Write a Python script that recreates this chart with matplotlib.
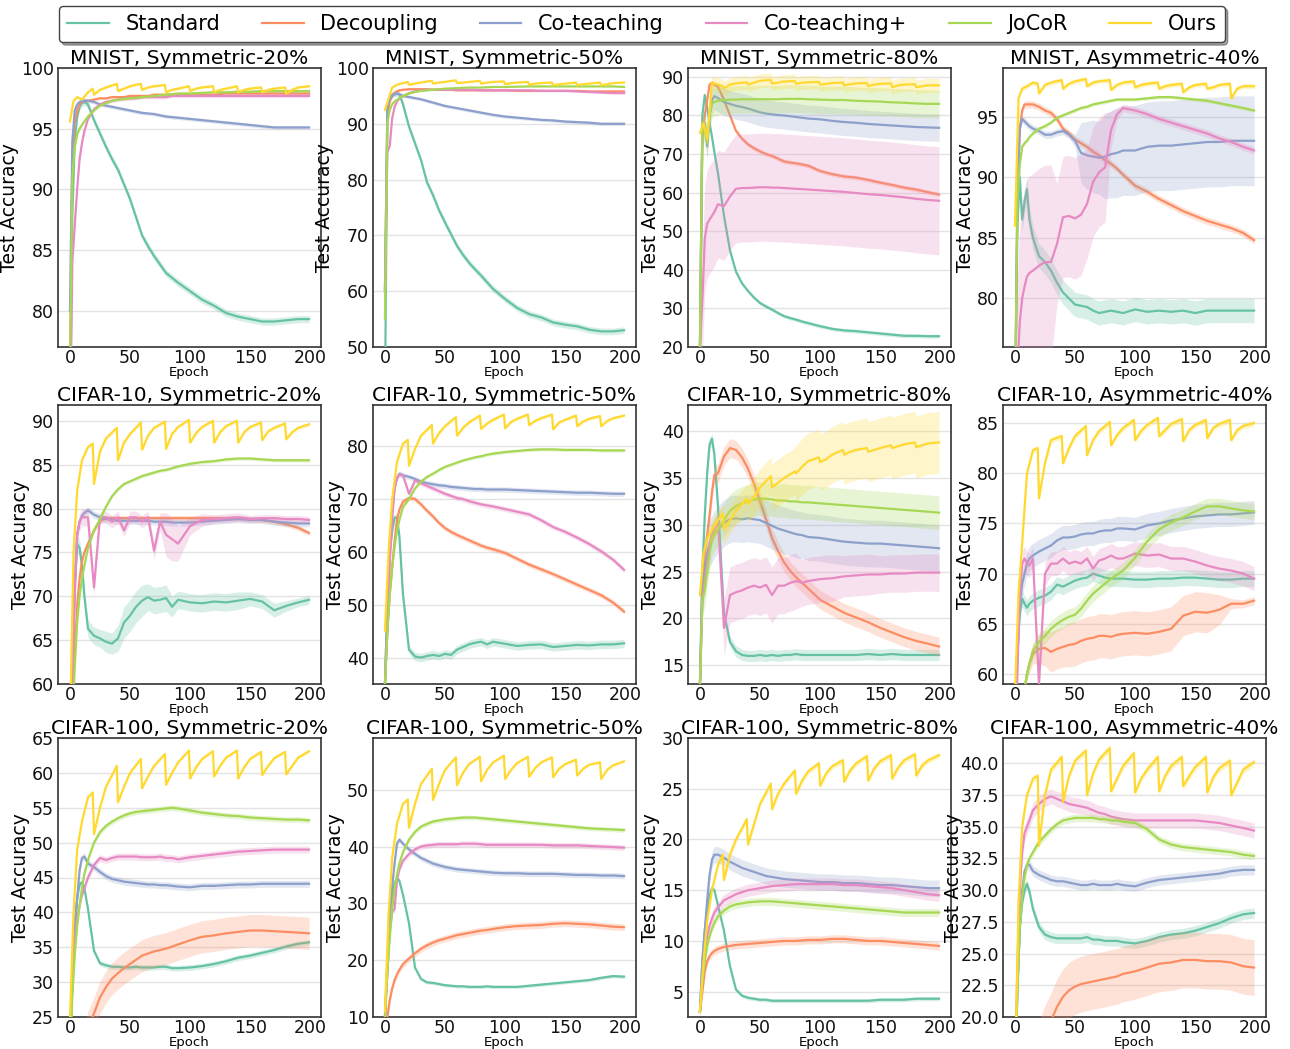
import numpy as np
import matplotlib
matplotlib.use("Agg")
import matplotlib.pyplot as plt
from matplotlib.ticker import MultipleLocator

plt.rcParams['font.family'] = ['DejaVu Sans']

METHODS = ["Standard", "Decoupling", "Co-teaching", "Co-teaching+", "JoCoR", "Ours"]
COLORS = ['#66c2a5', '#fc8d62', '#8da0cb', '#e78ac3', '#a6d854', '#ffd92f']

# epochs for baselines and for "Ours" (cyclic schedule)
EPOCHS = [0, 2, 4, 6, 8, 10, 12, 15, 20, 25, 30, 35, 40, 45, 50, 55, 60, 65, 70, 75, 80, 85, 90,
          100, 110, 120, 130, 140, 150, 160, 170, 180, 190, 199]
EPOCHS_OURS = [0, 3, 6, 10, 15, 19, 20, 25, 30, 39, 40, 45, 50, 59, 60, 65, 70, 79, 80, 85, 90, 99,
               100, 105, 110, 119, 120, 125, 130, 139, 140, 145, 150, 159, 160, 165, 170, 179,
               180, 185, 190, 199]

# ---------------- MNIST, Symmetric-20% ----------------
m20_standard = [70, 88, 94, 96, 96.8, 97.1, 97.2, 97.0, 95.7, 94.6, 93.5, 92.5, 91.6, 90.4, 89.2, 87.7, 86.2, 85.3, 84.5, 83.8, 83.1, 82.7, 82.3, 81.6, 80.9, 80.4, 79.8, 79.5, 79.3, 79.1, 79.1, 79.2, 79.3, 79.3]
m20_decoup = [75, 93, 95.5, 96.5, 97.0, 97.2, 97.3, 97.3, 97.4, 97.5, 97.5, 97.6, 97.6, 97.6, 97.7, 97.7, 97.7, 97.7, 97.8, 97.8, 97.8, 97.8, 97.8, 97.8, 97.8, 97.8, 97.9, 97.9, 97.9, 97.9, 97.9, 97.9, 97.9, 97.9]
m20_coteach = [80, 94, 96.5, 97.0, 97.2, 97.3, 97.3, 97.3, 97.2, 97.0, 96.9, 96.8, 96.7, 96.6, 96.5, 96.4, 96.3, 96.25, 96.2, 96.1, 96.0, 95.95, 95.9, 95.8, 95.7, 95.6, 95.5, 95.4, 95.3, 95.2, 95.1, 95.1, 95.1, 95.1]
m20_coplus = [70, 84, 87, 90, 92.5, 93.8, 94.8, 95.8, 96.6, 97.0, 97.2, 97.3, 97.4, 97.45, 97.5, 97.5, 97.6, 97.6, 97.6, 97.6, 97.6, 97.7, 97.7, 97.7, 97.7, 97.7, 97.7, 97.7, 97.7, 97.7, 97.7, 97.7, 97.7, 97.7]
m20_jocor = [75, 91, 93.5, 94.5, 95.0, 95.3, 95.6, 96.0, 96.5, 96.9, 97.1, 97.3, 97.4, 97.45, 97.5, 97.55, 97.6, 97.65, 97.7, 97.75, 97.8, 97.85, 97.9, 97.9, 97.95, 98.0, 98.0, 98.05, 98.05, 98.1, 98.1, 98.1, 98.1, 98.1]
m20_ours = [95.6, 97.3, 97.6, 97.4, 98.0, 98.3, 97.8, 98.2, 98.4, 98.7, 98.1, 98.3, 98.5, 98.7, 98.2, 98.4, 98.5, 98.6, 98.0, 98.2, 98.3, 98.5, 98.1, 98.3, 98.4, 98.5, 98.0, 98.2, 98.3, 98.5, 98.0, 98.2, 98.3, 98.4, 98.0, 98.2, 98.3, 98.4, 97.9, 98.2, 98.4, 98.5]
m20_sd = [0.3, 0.1, 0.15, 0.15, 0.1, 0.1]

# ---------------- MNIST, Symmetric-50% ----------------
m50_standard = [40, 92, 94.5, 95.2, 95.5, 95.5, 95.3, 93.5, 89.5, 86.5, 83.5, 79.5, 77.2, 74.5, 72.3, 70.2, 68.1, 66.5, 65.1, 63.9, 62.8, 61.6, 60.4, 58.6, 57.0, 55.9, 55.3, 54.4, 54.0, 53.7, 53.1, 52.8, 52.8, 53.0]
m50_decoup = [60, 92, 94, 95, 95.5, 95.8, 96.0, 96.1, 96.2, 96.2, 96.2, 96.2, 96.1, 96.1, 96.1, 96.1, 96.0, 96.0, 96.0, 96.0, 96.0, 96.0, 96.0, 96.0, 95.9, 95.9, 95.9, 95.9, 95.9, 95.9, 95.8, 95.8, 95.8, 95.8]
m50_coteach = [60, 93, 94.5, 95.0, 95.3, 95.4, 95.3, 95.0, 94.8, 94.6, 94.4, 94.1, 93.8, 93.5, 93.2, 93.0, 92.8, 92.6, 92.4, 92.2, 92.0, 91.8, 91.6, 91.3, 91.1, 90.9, 90.7, 90.6, 90.4, 90.3, 90.2, 90.0, 90.0, 90.0]
m50_coplus = [60, 85, 86, 91, 93, 94, 94.5, 95, 95.5, 95.8, 96, 96.1, 96.1, 96.1, 96.1, 96.1, 96.1, 96.1, 96.1, 96.1, 96.0, 96.0, 96.0, 96.0, 96.0, 96.0, 95.9, 95.9, 95.9, 95.8, 95.7, 95.6, 95.5, 95.5]
m50_jocor = [55, 90, 92.5, 93.5, 94, 94.3, 94.6, 95.0, 95.4, 95.7, 95.9, 96.0, 96.1, 96.2, 96.3, 96.35, 96.4, 96.45, 96.5, 96.5, 96.5, 96.55, 96.6, 96.6, 96.65, 96.7, 96.7, 96.7, 96.7, 96.7, 96.7, 96.7, 96.7, 96.6]
m50_ours = [92.5, 94.5, 96.5, 97.0, 97.3, 97.5, 97.0, 97.2, 97.4, 97.7, 97.2, 97.4, 97.5, 97.8, 97.3, 97.4, 97.5, 97.7, 97.2, 97.4, 97.5, 97.6, 97.1, 97.3, 97.4, 97.5, 97.0, 97.2, 97.3, 97.4, 96.9, 97.1, 97.2, 97.4, 96.9, 97.1, 97.2, 97.4, 96.9, 97.1, 97.3, 97.4]
m50_sd = [0.6, 0.15, 0.3, 0.15, 0.1, 0.1]

# ---------------- MNIST, Symmetric-80% ----------------
m80_standard = [20, 80, 85.3, 82, 78, 74.5, 70.5, 65, 54, 45, 39.5, 36.5, 34.5, 32.8, 31.4, 30.5, 29.7, 28.8, 28.0, 27.5, 27.1, 26.6, 26.2, 25.4, 24.7, 24.3, 24.1, 23.8, 23.5, 23.2, 22.9, 22.9, 22.8, 22.8]
m80_decoup = [20, 75, 80, 84, 88, 88.5, 88.0, 87.5, 84, 80, 76, 74, 72.5, 71.5, 70.7, 70.0, 69.5, 68.8, 68.1, 67.8, 67.6, 67.3, 67.0, 65.6, 64.8, 64.2, 63.9, 63.3, 62.6, 62.0, 61.3, 60.8, 60.1, 59.5]
m80_coteach = [20, 76, 78, 72, 80, 84, 85, 84.5, 83.5, 83, 82.5, 82.2, 81.8, 81.3, 80.8, 80.5, 80.3, 80.1, 80.0, 79.8, 79.6, 79.4, 79.2, 79.0, 78.6, 78.3, 78.1, 77.8, 77.6, 77.4, 77.2, 77.0, 76.9, 76.8]
m80_coplus = [20, 32, 48, 52, 53, 54, 55, 57, 56.5, 59, 61, 61.2, 61.2, 61.3, 61.4, 61.4, 61.3, 61.3, 61.2, 61.1, 61, 60.9, 60.8, 60.6, 60.4, 60.2, 59.9, 59.6, 59.4, 59.1, 58.8, 58.4, 58.1, 57.9]
m80_jocor = [20, 78, 76, 73, 80, 83, 83.5, 83.8, 84, 84.1, 84.1, 84.2, 84.2, 84.2, 84.2, 84.2, 84.2, 84.2, 84.3, 84.3, 84.3, 84.3, 84.2, 84.1, 84.0, 84.0, 83.8, 83.7, 83.6, 83.4, 83.3, 83.1, 83.0, 83.0]
m80_ours = [75.5, 78, 74, 88.5, 88, 87.6, 87, 88, 88.3, 88.6, 88, 88.5, 89, 89.2, 88.3, 88.5, 88.8, 88.9, 88.2, 88.5, 88.6, 88.7, 88.0, 88.2, 88.4, 88.5, 87.8, 88.1, 88.3, 88.4, 87.6, 88.0, 88.2, 88.3, 87.3, 87.8, 88.0, 88.1, 87.3, 87.6, 87.8, 87.8]
m80_sd = [0.5, 0.6, 3.5, 14.0, 3.6, 1.8]

# ---------------- MNIST, Asymmetric-40% ----------------
ma40_standard = [70, 86, 90, 86.5, 88, 89, 86.5, 85, 83.5, 83, 82.3, 81.3, 80.5, 80.0, 79.5, 79.4, 79.3, 79.0, 78.8, 78.9, 79.0, 78.9, 78.8, 79.1, 78.9, 79.0, 78.9, 79.0, 78.8, 79.0, 79.0, 79.0, 79.0, 79.0]
ma40_decoup = [70, 88, 94, 95.5, 96, 96, 96, 96, 95.8, 95.5, 95.3, 94.8, 94.0, 93.6, 93.1, 92.8, 92.5, 92.1, 91.8, 91.4, 91.1, 90.7, 90.2, 89.3, 88.8, 88.2, 87.7, 87.2, 86.8, 86.4, 86.1, 85.8, 85.4, 84.8]
ma40_coteach = [70, 88, 94, 94.8, 94.6, 94.4, 94.2, 94.0, 93.8, 93.5, 93.5, 93.7, 93.8, 93.5, 93.0, 92.0, 91.8, 91.7, 91.6, 91.7, 91.9, 92.0, 92.2, 92.2, 92.5, 92.6, 92.6, 92.7, 92.8, 92.9, 92.9, 93.0, 93.0, 93.0]
ma40_coplus = [70, 74, 78, 80, 81, 81.8, 82.1, 82.3, 82.7, 83, 83, 84.5, 86.7, 86.8, 86.6, 86.9, 87.8, 89.6, 90.4, 90.8, 93.9, 95.2, 95.7, 95.5, 95.2, 94.8, 94.5, 94.2, 93.9, 93.6, 93.2, 92.9, 92.5, 92.2]
ma40_jocor = [70, 88, 91, 92.5, 92.8, 93, 93.3, 93.6, 94.0, 94.2, 94.5, 94.9, 95.1, 95.3, 95.5, 95.7, 95.8, 96.0, 96.1, 96.2, 96.3, 96.4, 96.4, 96.4, 96.5, 96.6, 96.6, 96.5, 96.4, 96.3, 96.1, 95.9, 95.7, 95.5]
ma40_ours = [86, 96.5, 97.3, 97.5, 97.8, 97.7, 96.9, 97.6, 97.8, 98.0, 97.3, 97.7, 97.9, 98.1, 97.5, 97.8, 97.9, 98.0, 97.2, 97.6, 97.8, 97.9, 97.4, 97.6, 97.7, 97.8, 97.3, 97.5, 97.6, 97.7, 97.0, 97.4, 97.6, 97.7, 97.3, 97.4, 97.6, 97.7, 96.5, 97.3, 97.5, 97.5]
ma40_coteach_sd = [0.3, 0.3, 0.3, 0.3, 0.3, 0.3, 0.3, 0.3, 0.3, 0.3, 0.3, 0.3, 0.3, 0.3, 0.5, 2.5, 2.8, 3.0, 3.0, 3.5, 3.6, 3.7, 3.7, 3.7, 3.7, 3.7, 3.7, 3.7, 3.7, 3.7, 3.7, 3.7, 3.7, 3.7]
ma40_coplus_sd = [8, 8, 8, 8, 8, 8, 8, 8, 8, 8, 8, 5, 5, 5, 5, 5, 4.5, 4.5, 4.5, 4.5, 1.5, 0.5, 0.3, 0.3, 0.3, 0.3, 0.3, 0.3, 0.3, 0.3, 0.3, 0.3, 0.3, 0.3]
ma40_sd = [1.0, 0.3, ma40_coteach_sd, ma40_coplus_sd, 0.15, 0.2]

# ---------------- CIFAR-10, Symmetric-20% ----------------
c10s20_standard = [55, 62, 71, 76, 75.5, 73.5, 70, 66.3, 65.5, 65.2, 64.8, 64.6, 65.2, 67, 67.8, 68.8, 69.5, 69.9, 69.5, 69.6, 69.8, 68.8, 69.6, 69.3, 69.2, 69.4, 69.3, 69.5, 69.7, 69.4, 68.4, 68.9, 69.3, 69.6]
c10s20_decoup = [50, 58, 63, 69, 72, 74, 75, 76, 77.5, 78.6, 78.9, 78.9, 78.9, 78.9, 78.9, 78.9, 78.9, 78.9, 78.9, 78.9, 78.9, 78.9, 78.9, 78.9, 78.9, 78.9, 78.9, 78.9, 78.8, 78.7, 78.5, 78.2, 77.8, 77.2]
c10s20_coteach = [50, 62, 72, 77, 78.5, 79.2, 79.5, 79.8, 79.3, 79.0, 78.8, 78.7, 78.6, 78.6, 78.6, 78.6, 78.6, 78.6, 78.5, 78.5, 78.5, 78.4, 78.4, 78.4, 78.5, 78.6, 78.7, 78.8, 78.7, 78.7, 78.5, 78.4, 78.3, 78.3]
c10s20_coplus = [50, 60, 70, 77, 78.5, 79, 79, 79, 71, 79, 79, 78.5, 79, 77.5, 79, 79, 78.5, 79, 75.2, 78.5, 77, 76.5, 76, 78, 78.7, 78.8, 78.9, 79, 78.8, 78.9, 78.9, 78.8, 78.8, 78.7]
c10s20_jocor = [50, 56, 62, 67, 70, 72, 73.5, 75.5, 77.5, 78.8, 80.2, 81.4, 82.2, 82.8, 83.1, 83.4, 83.7, 83.9, 84.1, 84.3, 84.4, 84.6, 84.8, 85.1, 85.3, 85.4, 85.6, 85.7, 85.7, 85.6, 85.5, 85.5, 85.5, 85.5]
c10s20_ours = [55, 75, 82, 85.5, 87, 87.4, 82.8, 86.5, 88, 89.2, 85.5, 87.5, 88.5, 89.8, 86.7, 88.3, 89.2, 89.9, 86.8, 88.5, 89.3, 90.1, 87.5, 88.6, 89.3, 90.0, 87.5, 88.7, 89.4, 90.0, 87.5, 88.7, 89.3, 89.8, 87.8, 88.8, 89.2, 89.7, 87.9, 88.7, 89.2, 89.6]
c10s20_standard_sd = [0.5, 0.5, 1, 1, 1, 1, 1, 1, 1, 1, 1.2, 1.2, 1.5, 1.8, 1.8, 1.8, 1.8, 1.5, 1.5, 1.5, 1.5, 1.2, 1, 1, 1, 1, 1, 1, 0.8, 0.8, 0.8, 0.6, 0.5, 0.5]
c10s20_coplus_sd = [0.5, 0.5, 1, 1, 1, 1, 1, 1, 1, 0.7, 0.7, 0.7, 0.7, 0.7, 0.7, 0.7, 0.7, 0.7, 1, 1, 2.5, 2.5, 2, 1, 0.7, 0.5, 0.5, 0.5, 0.4, 0.4, 0.4, 0.4, 0.4, 0.4]
c10s20_sd = [c10s20_standard_sd, 0.3, 0.4, c10s20_coplus_sd, 0.2, 0.2]

# ---------------- CIFAR-10, Symmetric-50% ----------------
c10s50_standard = [35, 50, 60, 64, 66.5, 66.5, 63, 52, 41.5, 40.2, 40.0, 40.3, 40.5, 40.3, 40.7, 40.5, 41.5, 42.0, 42.5, 42.8, 43.0, 42.5, 43.0, 42.6, 42.2, 42.4, 42.5, 42.0, 42.2, 42.4, 42.3, 42.5, 42.5, 42.7]
c10s50_decoup = [35, 45, 52, 57, 62, 66, 68, 69.5, 70.2, 70.0, 69.0, 67.8, 66.7, 65.5, 64.5, 63.8, 63.2, 62.7, 62.2, 61.7, 61.2, 60.8, 60.5, 59.8, 58.7, 57.6, 56.7, 55.8, 54.8, 53.8, 52.8, 51.8, 50.4, 48.7]
c10s50_coteach = [35, 50, 62, 68, 72, 74, 74.8, 74.5, 74.2, 73.8, 73.3, 73.0, 72.8, 72.6, 72.5, 72.3, 72.2, 72.1, 72.0, 71.9, 71.9, 71.8, 71.8, 71.8, 71.7, 71.6, 71.5, 71.4, 71.3, 71.2, 71.2, 71.1, 71.0, 71.0]
c10s50_coplus = [35, 45, 58, 66, 72, 74, 74.6, 74.5, 71, 73.5, 73, 72.5, 72, 71.5, 71, 70.6, 70.2, 70, 69.6, 69.3, 69, 68.8, 68.6, 68.1, 67.6, 67.1, 66.0, 64.7, 63.8, 62.7, 61.5, 60.1, 58.5, 56.6]
c10s50_jocor = [35, 45, 52, 57, 61, 64, 66, 68.5, 70, 72, 73.3, 74.2, 74.8, 75.5, 76.1, 76.5, 76.9, 77.3, 77.6, 77.9, 78.1, 78.4, 78.6, 78.9, 79.1, 79.3, 79.4, 79.4, 79.3, 79.3, 79.3, 79.2, 79.2, 79.2]
c10s50_ours = [45, 60, 70, 77, 80.5, 81.2, 76.3, 79.5, 82, 84, 80.5, 82.5, 83.8, 85.5, 82, 83.5, 84.5, 85.8, 83.3, 84.3, 85, 86, 83.4, 84.6, 85.2, 86, 84, 84.8, 85.3, 86, 83.2, 84.5, 85, 85.8, 83.8, 84.7, 85.2, 85.7, 83.8, 84.8, 85.3, 85.8]
c10s50_sd = [0.8, 0.5, 0.5, 0.5, 0.3, 0.3]

# ---------------- CIFAR-10, Symmetric-80% ----------------
c10s80_standard = [13, 25, 31, 35.5, 38.6, 39.2, 37.5, 32, 20.5, 17.5, 16.5, 16.1, 16.0, 16.0, 16.1, 16.0, 16.1, 16.0, 16.1, 16.1, 16.2, 16.1, 16.1, 16.1, 16.1, 16.1, 16.1, 16.2, 16.1, 16.2, 16.1, 16.1, 16.1, 16.1]
c10s80_decoup = [13, 22, 27, 29, 31, 33.5, 35.3, 35.5, 37.3, 38.2, 38.0, 37.2, 36.0, 34.4, 32.5, 30.6, 28.6, 27.2, 26.0, 25.1, 24.4, 23.8, 23.2, 22.0, 21.3, 20.6, 20.1, 19.6, 19.0, 18.5, 18.0, 17.6, 17.3, 17.0]
c10s80_coteach = [13, 24, 25, 27, 28, 28.5, 29, 29.5, 30.2, 30.6, 30.7, 30.6, 30.7, 30.6, 30.5, 30.2, 29.9, 29.6, 29.4, 29.2, 29.0, 28.9, 28.7, 28.6, 28.4, 28.2, 28.1, 28.0, 28.0, 27.9, 27.8, 27.7, 27.6, 27.5]
c10s80_coplus = [13, 22, 24, 26, 28, 29, 29.5, 30.5, 19, 22.5, 22.8, 23, 23.3, 23.5, 23.3, 23.6, 22.5, 23.5, 23.5, 23.8, 24, 23.8, 24, 24.2, 24.3, 24.5, 24.6, 24.7, 24.7, 24.8, 24.8, 24.9, 24.9, 24.9]
c10s80_jocor = [13, 22, 23, 25, 27, 28.5, 29, 29.5, 30.5, 31.5, 32, 32.3, 32.5, 32.7, 32.8, 32.8, 32.7, 32.6, 32.6, 32.5, 32.5, 32.4, 32.4, 32.3, 32.2, 32.1, 32.0, 31.9, 31.8, 31.7, 31.6, 31.5, 31.4, 31.3]
c10s80_ours = [22.5, 27, 28.5, 29.5, 30.5, 31.2, 29.5, 30.5, 31.5, 32.8, 32.2, 33, 34, 35.2, 34, 34.5, 35, 35.7, 35.5, 36.2, 36.8, 37.2, 36.7, 37, 37.5, 38, 37.5, 37.8, 38, 38.2, 37.8, 38, 38.2, 38.5, 38.2, 38.4, 38.6, 38.8, 38.3, 38.5, 38.7, 38.8]
c10s80_coplus_sd = [1, 1, 1, 1, 1, 1, 1, 1, 3, 3, 3, 3, 3, 3, 3, 3, 3, 3, 3, 3, 3, 2.5, 2.5, 2.5, 2.5, 2.2, 2.2, 2.2, 2.0, 2.0, 2.0, 2.0, 2.0, 2.0]
c10s80_ours_sd = [1, 1, 1, 1, 1, 1, 1.5, 1.5, 1.5, 1.5, 2, 2, 2, 2, 2.5, 2.5, 2.5, 2.5, 3, 3, 3, 3, 3, 3, 3, 3, 3.2, 3.2, 3.2, 3.2, 3.2, 3.2, 3.2, 3.2, 3.3, 3.3, 3.3, 3.3, 3.3, 3.3, 3.3, 3.3]
c10s80_sd = [0.6, 1.0, 2.5, c10s80_coplus_sd, 1.8, c10s80_ours_sd]

# ---------------- CIFAR-10, Asymmetric-40% ----------------
c10a40_standard = [55, 62, 66, 67.5, 67, 66.6, 67, 67.3, 67.6, 67.8, 68.2, 68.9, 68.7, 69, 69.3, 69.5, 69.6, 70, 69.8, 69.6, 69.5, 69.5, 69.5, 69.4, 69.4, 69.5, 69.5, 69.6, 69.6, 69.5, 69.4, 69.4, 69.5, 69.5]
c10a40_decoup = [50, 52, 55, 57, 58.5, 60, 61, 62, 62.5, 62.6, 62.2, 62.5, 62.7, 62.9, 63.0, 63.3, 63.5, 63.6, 63.8, 63.8, 63.7, 63.9, 64.0, 64.1, 64.0, 64.2, 64.5, 65.8, 66.2, 66.1, 66.4, 67.0, 67.0, 67.3]
c10a40_coteach = [55, 62, 67, 69, 70, 71, 71.5, 71.8, 72.2, 72.5, 72.8, 73.3, 73.6, 73.6, 73.7, 73.9, 74, 74, 74.2, 74.3, 74.3, 74.5, 74.5, 74.4, 74.8, 75, 75.3, 75.5, 75.7, 75.8, 75.9, 75.9, 76, 76.1]
c10a40_coplus = [50, 60, 68, 71, 71.5, 71, 70.8, 71.5, 59, 70, 71, 71, 71.5, 71, 71.2, 71, 71.5, 70.5, 71.3, 71.5, 71.8, 71.5, 71.5, 72, 71.8, 71.9, 71.5, 71.5, 71.2, 70.8, 70.5, 70.3, 70, 69.5]
c10a40_jocor = [50, 52, 55, 57, 58.5, 60, 61, 62.3, 63.2, 63.8, 64.5, 65, 65.4, 65.7, 65.9, 66.5, 67.3, 68, 68.5, 69, 69.5, 69.9, 70.3, 71.6, 73.2, 74.4, 75.1, 75.6, 76.2, 76.7, 76.7, 76.5, 76.3, 76.2]
c10a40_ours = [58, 68, 73, 80, 82.3, 82.5, 77.5, 81, 83.3, 83.7, 81, 82.5, 83.7, 84.7, 81.8, 83.3, 84.2, 85.1, 82.8, 83.8, 84.5, 85.3, 83.3, 84.2, 84.8, 85.5, 83.7, 84.3, 84.9, 85.4, 83.2, 84.3, 84.8, 85.3, 83.5, 84.5, 84.9, 85.3, 83.3, 84.3, 84.7, 85.0]
c10a40_decoup_sd = [0.5, 0.5, 0.5, 0.5, 0.5, 0.5, 0.8, 1, 1.5, 1.8, 2, 2, 2, 2.2, 2.2, 2.2, 2.2, 2.2, 2.2, 2.2, 2.2, 2.2, 2.2, 2.2, 2.2, 2.2, 2.2, 2.0, 2.0, 2.0, 1.5, 0.5, 0.4, 0.4]
c10a40_sd = [0.8, c10a40_decoup_sd, 1.2, 1.2, 0.8, 0.3]

# ---------------- CIFAR-100, Symmetric-20% ----------------
c100s20_standard = [20, 30, 38, 42, 44, 44.3, 43.5, 40.5, 34.5, 32.7, 32.4, 32.2, 32.2, 32.1, 32.1, 32.2, 32.1, 32.1, 32.1, 32.2, 32.2, 32.0, 32.0, 32.1, 32.3, 32.6, 33.0, 33.5, 33.8, 34.2, 34.6, 35.1, 35.5, 35.7]
c100s20_decoup = [5, 10, 14, 16, 18, 20, 21.5, 23.5, 25.5, 27.8, 29.3, 30.5, 31.3, 32.0, 32.6, 33.2, 33.8, 34.1, 34.4, 34.6, 34.8, 35.1, 35.4, 36.0, 36.5, 36.7, 37.0, 37.2, 37.4, 37.4, 37.3, 37.2, 37.1, 37.0]
c100s20_coteach = [20, 30, 38, 42, 46, 47.8, 48, 47, 46.5, 45.8, 45.2, 44.8, 44.6, 44.4, 44.3, 44.2, 44.1, 44, 44, 43.9, 43.9, 43.8, 43.7, 43.6, 43.8, 43.8, 43.9, 44, 44, 44.1, 44.1, 44.1, 44.1, 44.1]
c100s20_coplus = [20, 30, 36, 39, 41, 42.5, 43.5, 45, 46.8, 47.8, 47.5, 47.8, 48, 48, 48, 48, 47.9, 47.9, 47.9, 48, 47.8, 47.8, 47.6, 47.9, 48.1, 48.3, 48.5, 48.7, 48.8, 48.9, 49, 49, 49, 49]
c100s20_jocor = [20, 28, 34, 38, 41, 43.5, 45.5, 47.5, 50, 51.5, 52.4, 53, 53.5, 53.9, 54.2, 54.4, 54.5, 54.6, 54.7, 54.8, 54.9, 55, 54.9, 54.6, 54.3, 54.1, 53.9, 53.8, 53.6, 53.5, 53.4, 53.3, 53.3, 53.2]
c100s20_ours = [25, 40, 49, 53, 56.5, 57.2, 51.2, 55, 58, 61, 55.8, 58, 60, 62, 57.8, 59.5, 61, 62.7, 58.3, 60, 61.5, 63.2, 59.2, 60.8, 62, 63.1, 59.5, 61, 62.2, 63.2, 59.2, 60.8, 62, 63, 59.7, 61, 62.1, 63, 59.8, 61, 62.2, 63.1]
c100s20_sd = [0.4, 2.3, 0.5, 0.5, 0.4, 0.2]

# ---------------- CIFAR-100, Symmetric-50% ----------------
c100s50_standard = [10, 18, 26, 31, 33.5, 34.5, 34, 31.5, 26.5, 18.7, 16.7, 16.1, 16.0, 15.8, 15.6, 15.5, 15.4, 15.4, 15.3, 15.3, 15.3, 15.4, 15.3, 15.3, 15.3, 15.5, 15.7, 15.9, 16.1, 16.3, 16.5, 16.9, 17.2, 17.1]
c100s50_decoup = [5, 10, 13, 15, 16.5, 17.5, 18.3, 19.3, 20.3, 21.2, 22, 22.6, 23.1, 23.5, 23.8, 24.1, 24.4, 24.6, 24.8, 25, 25.2, 25.3, 25.5, 25.8, 26, 26.1, 26.2, 26.4, 26.5, 26.4, 26.3, 26.1, 25.9, 25.8]
c100s50_coteach = [10, 20, 28, 33, 37, 40.5, 41.2, 40.5, 39.5, 38.7, 38, 37.5, 37, 36.7, 36.4, 36.2, 36, 35.9, 35.8, 35.7, 35.6, 35.5, 35.4, 35.3, 35.3, 35.2, 35.2, 35.2, 35.1, 35.0, 35.0, 34.9, 34.9, 34.8]
c100s50_coplus = [10, 18, 25, 28.5, 29, 34, 36, 37.5, 38.7, 39.5, 40, 40.2, 40.3, 40.4, 40.4, 40.4, 40.4, 40.5, 40.5, 40.5, 40.4, 40.3, 40.3, 40.3, 40.3, 40.3, 40.3, 40.2, 40.2, 40.2, 40.1, 40.0, 39.9, 39.8]
c100s50_jocor = [10, 18, 24, 29, 32.5, 35, 37, 39, 41.2, 42.6, 43.5, 44, 44.4, 44.6, 44.8, 44.9, 45, 45.1, 45.1, 45.1, 45, 44.9, 44.8, 44.6, 44.4, 44.2, 44, 43.8, 43.6, 43.4, 43.2, 43.1, 43, 42.9]
c100s50_ours = [11, 28, 38, 44, 47.5, 48.3, 43.3, 47.5, 51, 53.7, 48.2, 51, 53.5, 55.7, 50.8, 53, 54.5, 55.8, 51.5, 53.5, 54.8, 56, 51.9, 53.5, 54.7, 55.8, 52.3, 53.8, 54.8, 55.7, 52.2, 53.7, 54.5, 55.3, 52.5, 53.7, 54.4, 54.8, 51.9, 53.5, 54.3, 55.0]
c100s50_sd = [0.3, 0.6, 0.5, 0.5, 0.4, 0.2]

# ---------------- CIFAR-100, Symmetric-80% ----------------
c100s80_standard = [3, 8, 11, 13, 14.5, 15.2, 15, 13.5, 11, 7.5, 5.2, 4.6, 4.4, 4.3, 4.2, 4.2, 4.1, 4.1, 4.1, 4.1, 4.1, 4.1, 4.1, 4.1, 4.1, 4.1, 4.1, 4.1, 4.2, 4.2, 4.2, 4.3, 4.3, 4.3]
c100s80_decoup = [3, 5, 7, 8, 8.5, 8.8, 9, 9.2, 9.4, 9.5, 9.6, 9.65, 9.7, 9.75, 9.8, 9.85, 9.9, 9.95, 10, 10, 10, 10.05, 10.1, 10.1, 10.2, 10.2, 10.1, 10, 10, 9.9, 9.8, 9.7, 9.6, 9.5]
c100s80_coteach = [3, 8, 11, 14, 16.5, 18, 18.5, 18.5, 18.2, 17.8, 17.5, 17.2, 17.0, 16.8, 16.6, 16.4, 16.3, 16.2, 16.1, 16.05, 16.0, 15.95, 15.9, 15.8, 15.8, 15.7, 15.7, 15.6, 15.5, 15.5, 15.4, 15.3, 15.2, 15.2]
c100s80_coplus = [3, 6, 9, 10.5, 11.5, 12.2, 12.8, 13.3, 14, 14.3, 14.6, 14.8, 15, 15.1, 15.2, 15.3, 15.4, 15.45, 15.5, 15.55, 15.6, 15.6, 15.6, 15.6, 15.6, 15.5, 15.5, 15.4, 15.3, 15.2, 15.0, 14.8, 14.6, 14.5]
c100s80_jocor = [3, 6, 8, 9.5, 10.5, 11.2, 11.8, 12.4, 13, 13.4, 13.6, 13.7, 13.8, 13.85, 13.9, 13.9, 13.9, 13.85, 13.8, 13.75, 13.7, 13.65, 13.6, 13.5, 13.4, 13.3, 13.2, 13.1, 13, 12.9, 12.8, 12.8, 12.8, 12.8]
c100s80_ours = [3, 8, 12, 15, 17.5, 18.5, 16, 18.5, 20, 22, 19.5, 21.5, 23.5, 25.5, 23, 24.5, 25.5, 26.8, 24.5, 25.8, 26.7, 27.5, 25.3, 26.5, 27.2, 27.8, 25.7, 26.8, 27.5, 28.2, 25.8, 27, 27.7, 28.3, 26, 27.1, 27.8, 28.4, 26.3, 27.3, 27.8, 28.3]
c100s80_sd = [0.2, 0.4, 0.8, 0.6, 0.4, 0.3]

# ---------------- CIFAR-100, Asymmetric-40% ----------------
c100a40_standard = [15, 22, 27, 29, 30, 30.5, 29.9, 28.5, 27.1, 26.5, 26.3, 26.2, 26.2, 26.2, 26.2, 26.2, 26.3, 26.1, 26.1, 26.0, 26.0, 26.0, 25.9, 25.8, 26.0, 26.3, 26.5, 26.6, 26.8, 27.1, 27.4, 27.8, 28.1, 28.2]
c100a40_decoup = [10, 12, 13, 14, 14.5, 15, 15.5, 16.3, 17.5, 18.7, 19.7, 20.8, 21.6, 22.1, 22.4, 22.6, 22.7, 22.8, 22.9, 23.0, 23.1, 23.2, 23.4, 23.6, 23.9, 24.2, 24.3, 24.5, 24.5, 24.4, 24.4, 24.3, 24.0, 23.9]
c100a40_coteach = [15, 22, 27, 30, 31.5, 32, 32, 31.5, 31.2, 31, 30.8, 30.7, 30.7, 30.6, 30.5, 30.4, 30.4, 30.5, 30.4, 30.4, 30.4, 30.5, 30.4, 30.3, 30.6, 30.8, 30.9, 31.0, 31.1, 31.2, 31.3, 31.5, 31.6, 31.6]
c100a40_coplus = [15, 24, 30, 33, 34.5, 35, 35.5, 36.3, 36.8, 37.2, 37.4, 37.2, 37.0, 36.8, 36.7, 36.6, 36.5, 36.3, 36.1, 36.0, 35.8, 35.7, 35.6, 35.5, 35.5, 35.5, 35.5, 35.5, 35.5, 35.4, 35.3, 35.1, 34.9, 34.7]
c100a40_jocor = [15, 22, 27, 29.5, 31, 32, 32.5, 33, 33.8, 34.3, 34.8, 35.2, 35.5, 35.6, 35.7, 35.7, 35.7, 35.7, 35.6, 35.6, 35.5, 35.5, 35.4, 35.3, 34.8, 34.0, 33.6, 33.4, 33.3, 33.2, 33.1, 33.0, 32.8, 32.7]
c100a40_ours = [15, 29, 35, 37.5, 38.8, 39, 33.5, 37.5, 39.5, 40.5, 37, 39, 40.2, 41, 37.5, 39.2, 40.3, 41.2, 37.8, 38.8, 39.8, 40.8, 37.7, 38.8, 39.5, 40.5, 37.8, 39, 39.8, 40.5, 38.2, 39, 39.7, 40.5, 37.7, 38.9, 39.6, 40.2, 37.5, 38.5, 39.5, 40.1]
c100a40_sd = [0.4, 2.2, 0.4, 0.6, 0.3, 0.3]

# ---------------- panels ----------------
TITLES = ["MNIST, Symmetric-20%", "MNIST, Symmetric-50%", "MNIST, Symmetric-80%", "MNIST, Asymmetric-40%",
          "CIFAR-10, Symmetric-20%", "CIFAR-10, Symmetric-50%", "CIFAR-10, Symmetric-80%", "CIFAR-10, Asymmetric-40%",
          "CIFAR-100, Symmetric-20%", "CIFAR-100, Symmetric-50%", "CIFAR-100, Symmetric-80%", "CIFAR-100, Asymmetric-40%"]

SERIES = [
    [m20_standard, m20_decoup, m20_coteach, m20_coplus, m20_jocor, m20_ours, m20_sd],
    [m50_standard, m50_decoup, m50_coteach, m50_coplus, m50_jocor, m50_ours, m50_sd],
    [m80_standard, m80_decoup, m80_coteach, m80_coplus, m80_jocor, m80_ours, m80_sd],
    [ma40_standard, ma40_decoup, ma40_coteach, ma40_coplus, ma40_jocor, ma40_ours, ma40_sd],
    [c10s20_standard, c10s20_decoup, c10s20_coteach, c10s20_coplus, c10s20_jocor, c10s20_ours, c10s20_sd],
    [c10s50_standard, c10s50_decoup, c10s50_coteach, c10s50_coplus, c10s50_jocor, c10s50_ours, c10s50_sd],
    [c10s80_standard, c10s80_decoup, c10s80_coteach, c10s80_coplus, c10s80_jocor, c10s80_ours, c10s80_sd],
    [c10a40_standard, c10a40_decoup, c10a40_coteach, c10a40_coplus, c10a40_jocor, c10a40_ours, c10a40_sd],
    [c100s20_standard, c100s20_decoup, c100s20_coteach, c100s20_coplus, c100s20_jocor, c100s20_ours, c100s20_sd],
    [c100s50_standard, c100s50_decoup, c100s50_coteach, c100s50_coplus, c100s50_jocor, c100s50_ours, c100s50_sd],
    [c100s80_standard, c100s80_decoup, c100s80_coteach, c100s80_coplus, c100s80_jocor, c100s80_ours, c100s80_sd],
    [c100a40_standard, c100a40_decoup, c100a40_coteach, c100a40_coplus, c100a40_jocor, c100a40_ours, c100a40_sd],
]

YLIMS = [(77, 100), (50, 100), (20, 92.3), (76, 99),
         (60, 91.8), (35, 87.8), (13, 42.8), (59, 86.8),
         (25, 65), (10, 59.1), (2.5, 30), (20, 42)]
YSTEPS = [5, 10, 10, 5, 5, 10, 5, 5, 5, 10, 5, 2.5]

W, H = 1290, 1049
fig = plt.figure(figsize=(W / 100, H / 100), dpi=100)

col_left = [58, 373, 688, 1003]
row_top = [68, 405, 738]
ax_w, ax_h = 263, 279

handles = []
for i in range(12):
    r, c = divmod(i, 4)
    ax = fig.add_axes([col_left[c] / W, 1 - (row_top[r] + ax_h) / H, ax_w / W, ax_h / H])
    data = SERIES[i]
    sds = data[6]
    for k in range(6):
        x = np.array(EPOCHS_OURS if k == 5 else EPOCHS, dtype=float)
        y = np.array(data[k], dtype=float)
        s = np.broadcast_to(np.array(sds[k], dtype=float), y.shape)
        ax.fill_between(x, y - s, y + s, color=COLORS[k], alpha=0.25, linewidth=0, zorder=2 + k)
        ln, = ax.plot(x, y, color=COLORS[k], lw=1.6, zorder=3 + k, label=METHODS[k])
        if i == 0:
            handles.append(ln)
    ax.set_ylim(*YLIMS[i])
    ax.set_xlim(-9.95, 208.95)
    ax.set_xticks([0, 50, 100, 150, 200])
    ax.yaxis.set_major_locator(MultipleLocator(YSTEPS[i]))
    ax.grid(axis='y', color='#e3e3e3', linewidth=1.0, zorder=0)
    ax.set_axisbelow(True)
    ax.tick_params(axis='both', length=0, labelsize=12.5, colors='#111111')
    ax.tick_params(axis='x', pad=1.5)
    ax.tick_params(axis='y', pad=3)
    for sp in ax.spines.values():
        sp.set_color('#333333')
        sp.set_linewidth(1.2)
    ax.set_title(TITLES[i], fontsize=14.5, pad=3)
    ax.set_xlabel("Epoch", fontsize=9.5, labelpad=-0.5)
    ax.set_ylabel("Test Accuracy", fontsize=13.5, labelpad=(-2 if i == 11 else 1.5))

leg = fig.legend(handles=handles, labels=METHODS, loc='center', bbox_to_anchor=(642 / W, 1 - 24 / H),
                 ncol=6, fontsize=15, frameon=True, fancybox=True, shadow=True,
                 handlelength=2.0, columnspacing=2.0, borderpad=0.4)
leg.get_frame().set_edgecolor('#444444')

fig.savefig("out.png", dpi=100)
